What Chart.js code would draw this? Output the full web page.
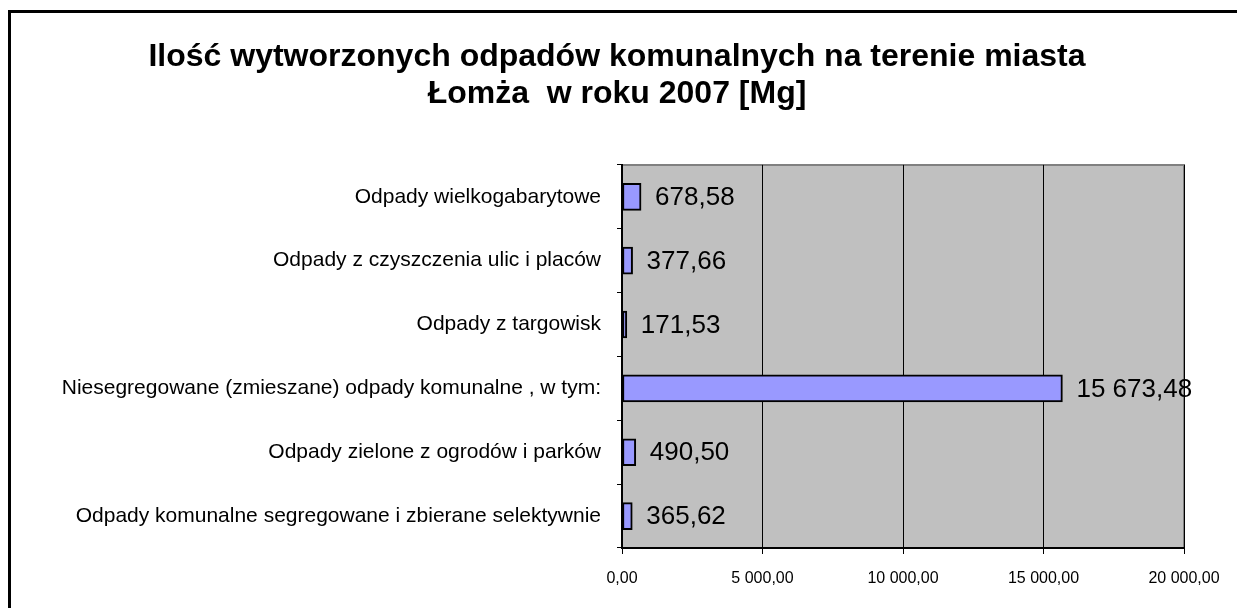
<!DOCTYPE html>
<html>
<head>
<meta charset="utf-8">
<script src="https://cdn.jsdelivr.net/npm/chart.js@4.4.1/dist/chart.umd.min.js"></script>
<style>
    html, body { margin: 0; padding: 0; background: #fff; overflow: hidden; }
    #wrap { position: relative; width: 1237px; height: 608px; }
    #frame {
        position: absolute; left: 8px; top: 10px;
        width: 1300px; height: 700px;
        border: 3px solid #000; pointer-events: none;
    }
</style>
</head>
<body>
<div id="wrap">
    <canvas id="myChart" width="1237" height="608"></canvas>
    <div id="frame"></div>
</div>
<script>
// Data
const categories = [
    "Odpady wielkogabarytowe",
    "Odpady z czyszczenia ulic i placów",
    "Odpady z targowisk",
    "Niesegregowane (zmieszane) odpady komunalne , w tym:",
    "Odpady zielone z ogrodów i parków",
    "Odpady komunalne segregowane i zbierane selektywnie"
];
const values = [678.58, 377.66, 171.53, 15673.48, 490.50, 365.62];
const titleLines = [
    "Ilość wytworzonych odpadów komunalnych na terenie miasta",
    "Łomża  w roku 2007 [Mg]"
];

// Polish number format: "15 673,48"
function fmt(v) {
    const parts = v.toFixed(2).split(".");
    parts[0] = parts[0].replace(/\B(?=(\d{3})+(?!\d))/g, " ");
    return parts.join(",");
}

// Gray plot background + frame
const plotBg = {
    id: "plotBg",
    beforeDraw(chart) {
        const a = chart.chartArea;
        const c = chart.ctx;
        c.save();
        c.fillStyle = "#c0c0c0";
        c.fillRect(a.left, a.top, a.right - a.left, a.bottom - a.top);
        c.strokeStyle = "#808080";
        c.lineWidth = 2;
        c.beginPath();
        c.moveTo(a.left, a.top);
        c.lineTo(a.right, a.top);
        c.lineTo(a.right, a.bottom);
        c.stroke();
        c.restore();
    }
};

// Value labels next to bars
const valueLabels = {
    id: "valueLabels",
    afterDatasetsDraw(chart) {
        const c = chart.ctx;
        const meta = chart.getDatasetMeta(0);
        c.save();
        c.font = "26px Arial, 'Liberation Sans'";
        c.fillStyle = "#000";
        c.textBaseline = "middle";
        c.textAlign = "left";
        meta.data.forEach((el, i) => {
            c.fillText(fmt(values[i]), el.x + 14, el.y + 1);
        });
        c.restore();
    }
};

const ctx = document.getElementById("myChart");
const chart = new Chart(ctx, {
    type: "bar",
    data: {
        labels: categories,
        datasets: [{
            data: values,
            backgroundColor: "#9999ff",
            borderColor: "#000",
            borderWidth: 2,
            borderSkipped: false,
            barThickness: 27
        }]
    },
    options: {
        indexAxis: "y",
        responsive: false,
        animation: false,
        layout: {
            // left padding keeps the title centred on the frame
            padding: { left: 50, right: 53, top: 0, bottom: 10 }
        },
        plugins: {
            legend: { display: false },
            tooltip: { enabled: false },
            title: {
                display: true,
                text: titleLines,
                color: "#000",
                font: { family: "Arial, 'Liberation Sans'", size: 32, weight: "bold", lineHeight: 1.17 },
                padding: { top: 38, bottom: 52 }
            }
        },
        scales: {
            x: {
                min: 0,
                max: 20000,
                ticks: {
                    stepSize: 5000,
                    color: "#000",
                    font: { family: "Arial, 'Liberation Sans'", size: 16 },
                    padding: 15,
                    callback: (v) => fmt(v)
                },
                grid: { color: "#000", lineWidth: 1, tickLength: 6 },
                border: { color: "#000", width: 2 },
                afterFit: (s) => { s.height = 50; }
            },
            y: {
                ticks: {
                    color: "#000",
                    font: { family: "Arial, 'Liberation Sans'", size: 21 },
                    padding: 16
                },
                grid: { drawOnChartArea: false, color: "#000", tickLength: 5 },
                border: { color: "#000", width: 2 },
                afterFit: (s) => { s.width = 572; }
            }
        }
    },
    plugins: [plotBg, valueLabels]
});
</script>
</body>
</html>
